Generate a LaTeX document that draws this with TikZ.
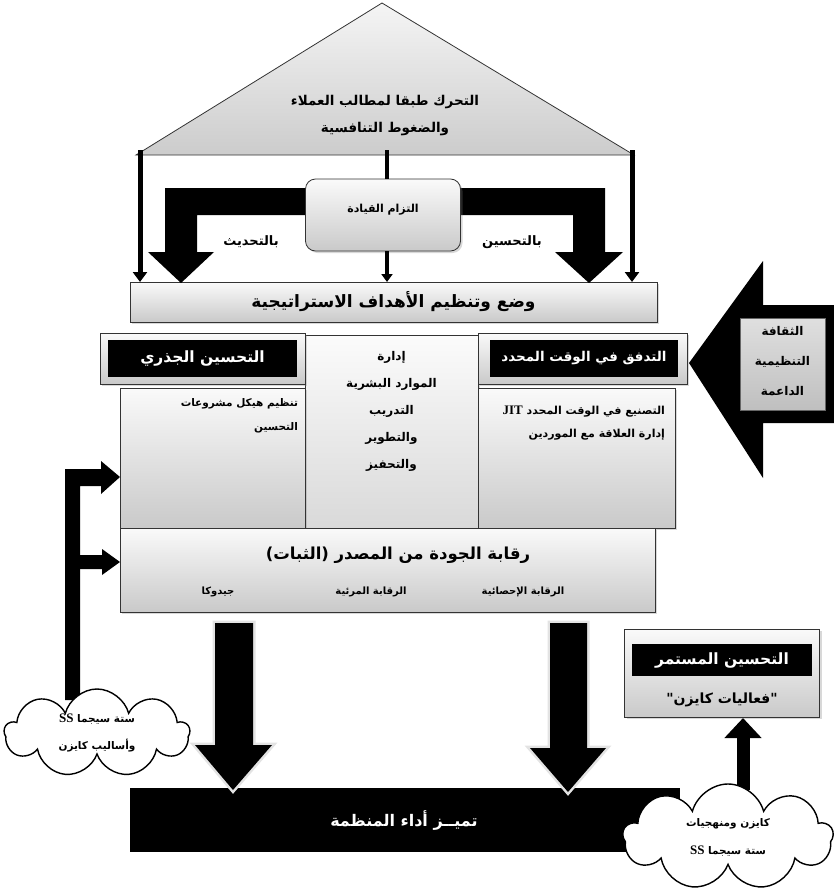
\documentclass[tikz,border=0pt]{standalone}
\usepackage{fontspec}
\newfontfamily\arabicfont[Script=Arabic]{DejaVu Sans}
\newfontfamily\latinfont{Liberation Serif}
\TeXXeTstate=1
\usetikzlibrary{arrows.meta,shapes.symbols,shadows,calc}
\newcommand{\rl}[1]{\beginR #1\endR}
\newcommand{\lt}[1]{\beginL{\latinfont\bfseries #1}\endL{}}
\newcommand{\afont}[2]{\fontsize{#1}{#2}\arabicfont\bfseries}
\begin{document}
\begin{tikzpicture}[x=1pt,y=-1pt,
  every node/.style={inner sep=0pt,outer sep=0pt},
  shadebox/.style={draw=black!80,line width=0.8pt,top color=gray!4,bottom color=gray!42,
    drop shadow={opacity=0.3,shadow xshift=2pt,shadow yshift=-2pt}},
  blackbox/.style={fill=black,text=white},
  thinarr/.style={line width=5pt,-{Triangle[length=10pt,width=14pt]}},
  bigarr/.style={fill=black},
  haloarr/.style={fill=black,preaction={draw=gray!22,line width=5pt,line join=miter}},
  cloudbox/.style={cloud,cloud puffs=9,aspect=2.1,draw=black,line width=1.4pt,fill=white,align=center},
  txt/.style={align=center}]

\useasboundingbox (0,0) rectangle (833,894);
\fill[white] (0,0) rectangle (833,894);

% roof
\coordinate (apex) at (382,3);
\coordinate (tl) at (136,155);
\coordinate (tr) at (634,155);
\path[draw=black!80,line width=0.8pt,top color=gray!8,bottom color=gray!40] (apex) -- (tr) -- (tl) -- cycle;
\node[txt,font=\afont{13.5}{27}] (tritext) at (385,116) {\rl{التحرك طبقا لمطالب العملاء}\\\rl{والضغوط التنافسية}};

% strategic goals
\node[shadebox,minimum width=527pt,minimum height=40pt,font=\afont{17}{20}] (strat) at (393.5,302) {\rl{وضع وتنظيم الأهداف الاستراتيجية}};

% leadership + bent arrows
\node[minimum width=155pt,minimum height=72pt] (leadpos) at (383,215) {};
\fill[bigarr] (leadpos.west |- 0,188) -- (165,188) -- (165,252) -- (148,252) -- (181,283) -- (214,252) -- (197,252) -- (197,215) -- (leadpos.west |- 0,215) -- cycle;
\fill[bigarr] (leadpos.east |- 0,188) -- (605,188) -- (605,252) -- (623,252) -- (589,283) -- (555,252) -- (573,252) -- (573,215) -- (leadpos.east |- 0,215) -- cycle;
\node[shadebox,rounded corners=10pt,minimum width=155pt,minimum height=72pt] (lead) at (383,215) {};
\node[font=\afont{11}{13}] (leadtxt) at (383,210) {\rl{التزام القيادة}};
\node[font=\afont{13}{15}] (lblL) at (251,242) {\rl{بالتحديث}};
\node[font=\afont{13}{15}] (lblR) at (512,242) {\rl{بالتحسين}};

% thin arrows
\coordinate (a1) at (140,150);
\coordinate (a2) at (632,150);
\coordinate (a3) at (387,150);
\draw[thinarr] (a1) -- (a1 |- strat.north);
\draw[thinarr] (a2) -- (a2 |- strat.north);
\draw[line width=3.5pt] (a3) -- (a3 |- lead.north);
\draw[line width=3.5pt,-{Triangle[length=8pt,width=11pt]}] (lead.south -| a3) -- (a3 |- strat.north);

% pillars
\node[shadebox,top color=gray!3,bottom color=gray!30,minimum width=173pt,minimum height=195pt] (hr) at (391.5,432.5) {};
\node[txt,font=\afont{12}{27}] (hrtxt) at (391.5,411) {\rl{إدارة}\\\rl{الموارد البشرية}\\\rl{التدريب}\\\rl{والتطوير}\\\rl{والتحفيز}};

\node[shadebox,minimum width=185pt,minimum height=140pt] (lc) at (212.5,458) {};
\node[font=\afont{10.5}{24},align=right,anchor=north east] (lctxt) at (298,399) {\rl{تنظيم هيكل مشروعات}\\\rl{التحسين}};

\node[shadebox,minimum width=197pt,minimum height=140pt] (rc) at (576.5,458) {};
\node[font=\afont{11}{23},align=right,anchor=north east] (rctxt) at (665,406) {\rl{التصنيع في الوقت المحدد \lt{\fontsize{13}{15}\selectfont JIT}}\\\rl{إدارة العلاقة مع الموردين}};

\node[shadebox,minimum width=205pt,minimum height=51pt] (lhf) at (202.5,358.5) {};
\node[blackbox,minimum width=189pt,minimum height=37pt,font=\afont{15.5}{17}] (lh) at (lhf) {\rl{التحسين الجذري}};
\node[shadebox,minimum width=209pt,minimum height=51pt] (rhf) at (582.5,358.5) {};
\node[blackbox,minimum width=188pt,minimum height=37pt,font=\afont{13.5}{16}] (rh) at (584,358.5) {\rl{التدفق في الوقت المحدد}};

% quality
\node[shadebox,minimum width=535pt,minimum height=84pt] (qual) at (387.5,570) {};
\node[font=\afont{16.5}{19}] (qualt) at (398,555) {\rl{رقابة الجودة من المصدر (الثبات)}};
\node[font=\afont{10}{12}] (q1) at (523,592) {\rl{الرقابة الإحصائية}};
\node[font=\afont{10}{12}] (q2) at (371,592) {\rl{الرقابة المرئية}};
\node[font=\afont{10}{12}] (q3) at (218,592) {\rl{جيدوكا}};

% culture arrow
\fill[bigarr] (689,363) -- (763,261) -- (763,305) -- (835,305) -- (835,423) -- (763,423) -- (763,478) -- cycle;
\node[draw=black!60,line width=0.6pt,top color=gray!25,bottom color=gray!50,minimum width=85pt,minimum height=92pt] (cult) at (782.5,364) {};
\node[txt,font=\afont{12}{30}] (culttxt) at (782.5,361) {\rl{الثقافة}\\\rl{التنظيمية}\\\rl{الداعمة}};

% feedback arrows on the left
\fill[bigarr] (65,700) -- (65,469) -- (101,469) -- (101,461) -- (lc.west |- 0,477) -- (101,494) -- (101,486) -- (80,486) -- (80,700) -- cycle;
\fill[bigarr] (80,555) -- (102,555) -- (102,549) -- (qual.west |- 0,562) -- (102,575) -- (102,569) -- (80,569) -- cycle;

% performance bar
\node[fill=black,minimum width=550pt,minimum height=64pt] (perf) at (405,820) {};
\node[font=\afont{16}{18},text=white] (perftxt) at (404,820) {\rl{تميــز أداء المنظمة}};

% down arrows
\path[haloarr] (215,623) -- (253,623) -- (253,745) -- (272,745) -- (233,790) -- (195,745) -- (215,745) -- cycle;
\path[haloarr] (550,623) -- (587,623) -- (587,748) -- (606,748) -- (568,792) -- (530,748) -- (550,748) -- cycle;

% continuous improvement
\draw[line width=13pt,-{Triangle[length=20pt,width=36pt]}] (743,790) -- (743,718);
\node[shadebox,minimum width=195pt,minimum height=88pt] (ci) at (722,673) {};
\node[blackbox,minimum width=180pt,minimum height=32pt,font=\afont{15.5}{17}] (cih) at (722,660) {\rl{التحسين المستمر}};
\node[font=\afont{14}{16}] (cit) at (722,700) {\rl{"فعاليات كايزن"}};

% clouds
\node[cloudbox,minimum width=185pt,minimum height=88pt,font=\afont{10.5}{27}] (lcloud) at (97,733) {\rl{ستة سيجما \lt{\fontsize{13}{15}\selectfont SS}}\\\rl{وأساليب كايزن}};
\node[cloudbox,minimum width=210pt,minimum height=106pt,font=\afont{10.5}{28}] (rcloud) at (728,837) {\rl{كايزن ومنهجيات}\\\rl{ستة سيجما \lt{\fontsize{13}{15}\selectfont SS}}};
\end{tikzpicture}
\end{document}
